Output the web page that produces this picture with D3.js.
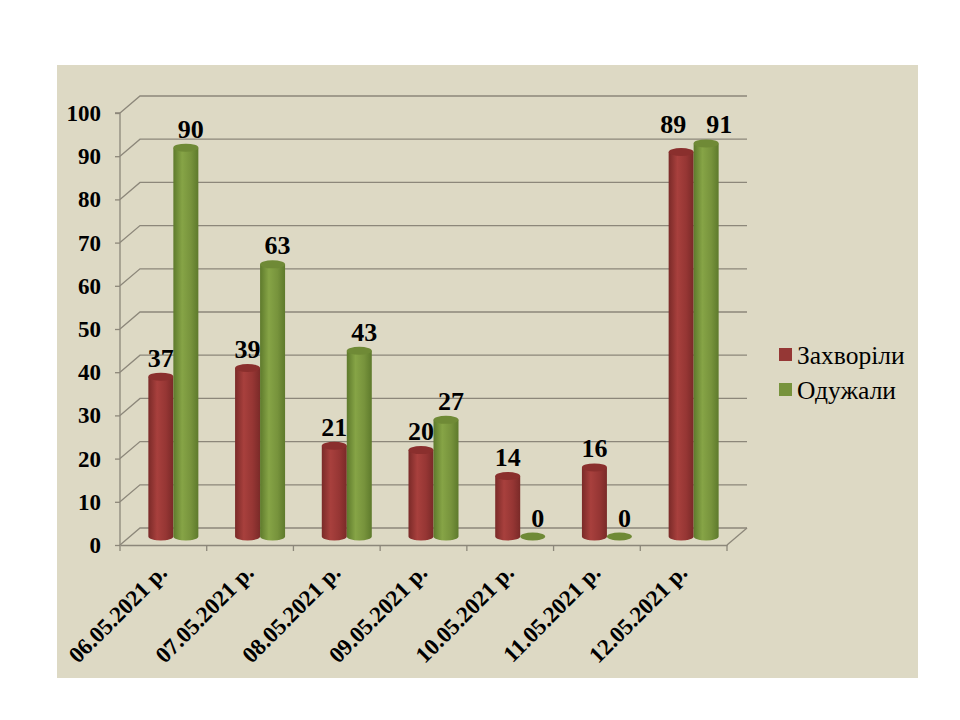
<!DOCTYPE html>
<html>
<head>
<meta charset="utf-8">
<script src="https://cdn.jsdelivr.net/npm/d3@7"></script>
<style>
body { margin: 0; background: #fff; }
svg { display: block; }
svg text { font-family: "Liberation Serif", "Times New Roman", serif; }
</style>
</head>
<body>
<div id="chart"></div>
<script>
// data
var dates = ["06.05.2021 р.", "07.05.2021 р.", "08.05.2021 р.", "09.05.2021 р.",
             "10.05.2021 р.", "11.05.2021 р.", "12.05.2021 р."];
var sick = [37, 39, 21, 20, 14, 16, 89];
var recovered = [90, 63, 43, 27, 0, 0, 91];
var seriesNames = ["Захворіли", "Одужали"];
var yTicks = [0, 10, 20, 30, 40, 50, 60, 70, 80, 90, 100];

var FONT = "'Liberation Serif', 'Times New Roman', serif";
var W = 960, H = 720;
var svg = d3.select("#chart").append("svg").attr("width", W).attr("height", H)
    .attr("font-family", FONT);

// gradients to fake the cylinders
var defs = svg.append("defs");
function cylGrad(id, dark, mid, light) {
    var g = defs.append("linearGradient").attr("id", id)
        .attr("x1", "0%").attr("x2", "100%").attr("y1", "0%").attr("y2", "0%");
    g.append("stop").attr("offset", "0%").attr("stop-color", dark);
    g.append("stop").attr("offset", "35%").attr("stop-color", light);
    g.append("stop").attr("offset", "70%").attr("stop-color", mid);
    g.append("stop").attr("offset", "100%").attr("stop-color", dark);
}
cylGrad("gRed", "#7a2a28", "#963634", "#a8403d");
cylGrad("gGreen", "#5e7a2c", "#77933c", "#86a446");

var colors = {top: ["#8a2f2d", "#6f8a36"], body: ["url(#gRed)", "url(#gGreen)"], legend: ["#953735", "#77933c"]};

// panel
svg.append("rect").attr("x", 57).attr("y", 65).attr("width", 861).attr("height", 613)
    .attr("fill", "#ddd9c4");

// depth offset for the 3D look
var dx = 20, dy = -17;
var x0 = 120, x1 = 727;

var x = d3.scaleBand().domain(dates).range([x0, x1]);
var y = d3.scaleLinear().domain([0, 100]).range([545, 113]);

var grid = svg.append("g");
// back wall lines + side wall diagonals
yTicks.forEach(function(t) {
    grid.append("path")
        .attr("d", "M" + x0 + "," + y(t) + "L" + (x0 + dx) + "," + (y(t) + dy) + "L" + (x1 + dx) + "," + (y(t) + dy))
        .attr("fill", "none").attr("stroke", "#8c877a").attr("stroke-width", 1.3);
});
// floor right edge
grid.append("path")
    .attr("d", "M" + x1 + "," + y(0) + "L" + (x1 + dx) + "," + (y(0) + dy))
    .attr("fill", "none").attr("stroke", "#8c877a").attr("stroke-width", 1.3);

// y axis
var yAxis = d3.axisLeft(y).tickValues(yTicks).tickSize(5).tickPadding(14);
var yg = svg.append("g").attr("transform", "translate(" + x0 + ",0)").call(yAxis)
    .attr("font-family", FONT);
yg.select(".domain").attr("stroke", "#8c877a").attr("stroke-width", 1.3).attr("d", "M-5," + y(100) + "H0V" + y(0));
yg.selectAll(".tick line").attr("stroke", "#8c877a").attr("stroke-width", 1.3);
yg.selectAll(".tick text").attr("fill", "#000").attr("font-size", 23).attr("font-weight", "bold")
    .attr("dy", "0.33em");

// x axis
var xAxis = d3.axisBottom(x).tickValues([]).tickSizeOuter(0);
var xg = svg.append("g").attr("transform", "translate(0," + y(0) + ")").call(xAxis);
xg.select(".domain").attr("stroke", "#8c877a").attr("stroke-width", 1.3);
var bounds = dates.map(function(d) { return x(d); }).concat([x1]);
xg.selectAll(".bt").data(bounds).enter().append("line")
    .attr("x1", function(d) { return d; }).attr("x2", function(d) { return d; })
    .attr("y1", 0).attr("y2", 6)
    .attr("stroke", "#8c877a").attr("stroke-width", 1.3);

svg.append("g").selectAll("text").data(dates).enter().append("text")
    .attr("transform", function(d) { return "translate(" + (x(d) + x.bandwidth() / 2 + 5) + ",574) rotate(-45)"; })
    .attr("text-anchor", "end")
    .attr("font-size", 23).attr("font-weight", "bold")
    .text(function(d) { return d; });

// bars
var barW = 25, ry = 4;
var base = y(0) + dy / 2;
var series = [sick, recovered];
var bars = svg.append("g");
var labels = svg.append("g");
dates.forEach(function(d, i) {
    var cx0 = x(d) + x.bandwidth() / 2 + dx / 2;
    var labelX = [], labelY = [];
    series.forEach(function(vals, s) {
        var v = vals[i];
        var left = cx0 - barW + s * barW;
        var cx = left + barW / 2;
        var top = y(v) + dy / 2;
        if (v > 0) {
            bars.append("path")
                .attr("d", "M" + left + "," + top + "L" + left + "," + base +
                      "A" + (barW / 2) + "," + ry + " 0 0 0 " + (left + barW) + "," + base +
                      "L" + (left + barW) + "," + top + "Z")
                .attr("fill", colors.body[s]);
        }
        bars.append("ellipse")
            .attr("cx", cx).attr("cy", top).attr("rx", barW / 2).attr("ry", ry)
            .attr("fill", colors.top[s]);
        labelX.push(cx + (s === 1 ? 5 : 0));
        labelY.push(top - 10);
    });
    // push apart labels that would overlap
    if (Math.abs(labelY[0] - labelY[1]) < 22 && labelX[1] - labelX[0] < 46) {
        var mid = (labelX[0] + labelX[1]) / 2;
        labelX[0] = mid - 23; labelX[1] = mid + 23;
        var ly = Math.min(labelY[0], labelY[1]);
        labelY[0] = ly; labelY[1] = ly;
    }
    series.forEach(function(vals, s) {
        labels.append("text")
            .attr("x", labelX[s]).attr("y", labelY[s])
            .attr("text-anchor", "middle")
            .attr("font-size", 26).attr("font-weight", "bold")
            .text(vals[i]);
    });
});

// legend
var lg = svg.append("g").attr("transform", "translate(779,355)");
seriesNames.forEach(function(n, i) {
    var row = lg.append("g").attr("transform", "translate(0," + (i * 35) + ")");
    row.append("rect").attr("x", 0).attr("y", -7).attr("width", 13).attr("height", 13)
        .attr("fill", colors.legend[i]);
    row.append("text").attr("x", 18).attr("y", 0).attr("dy", "0.35em")
        .attr("font-size", 25.5).text(n);
});
</script>
</body>
</html>
